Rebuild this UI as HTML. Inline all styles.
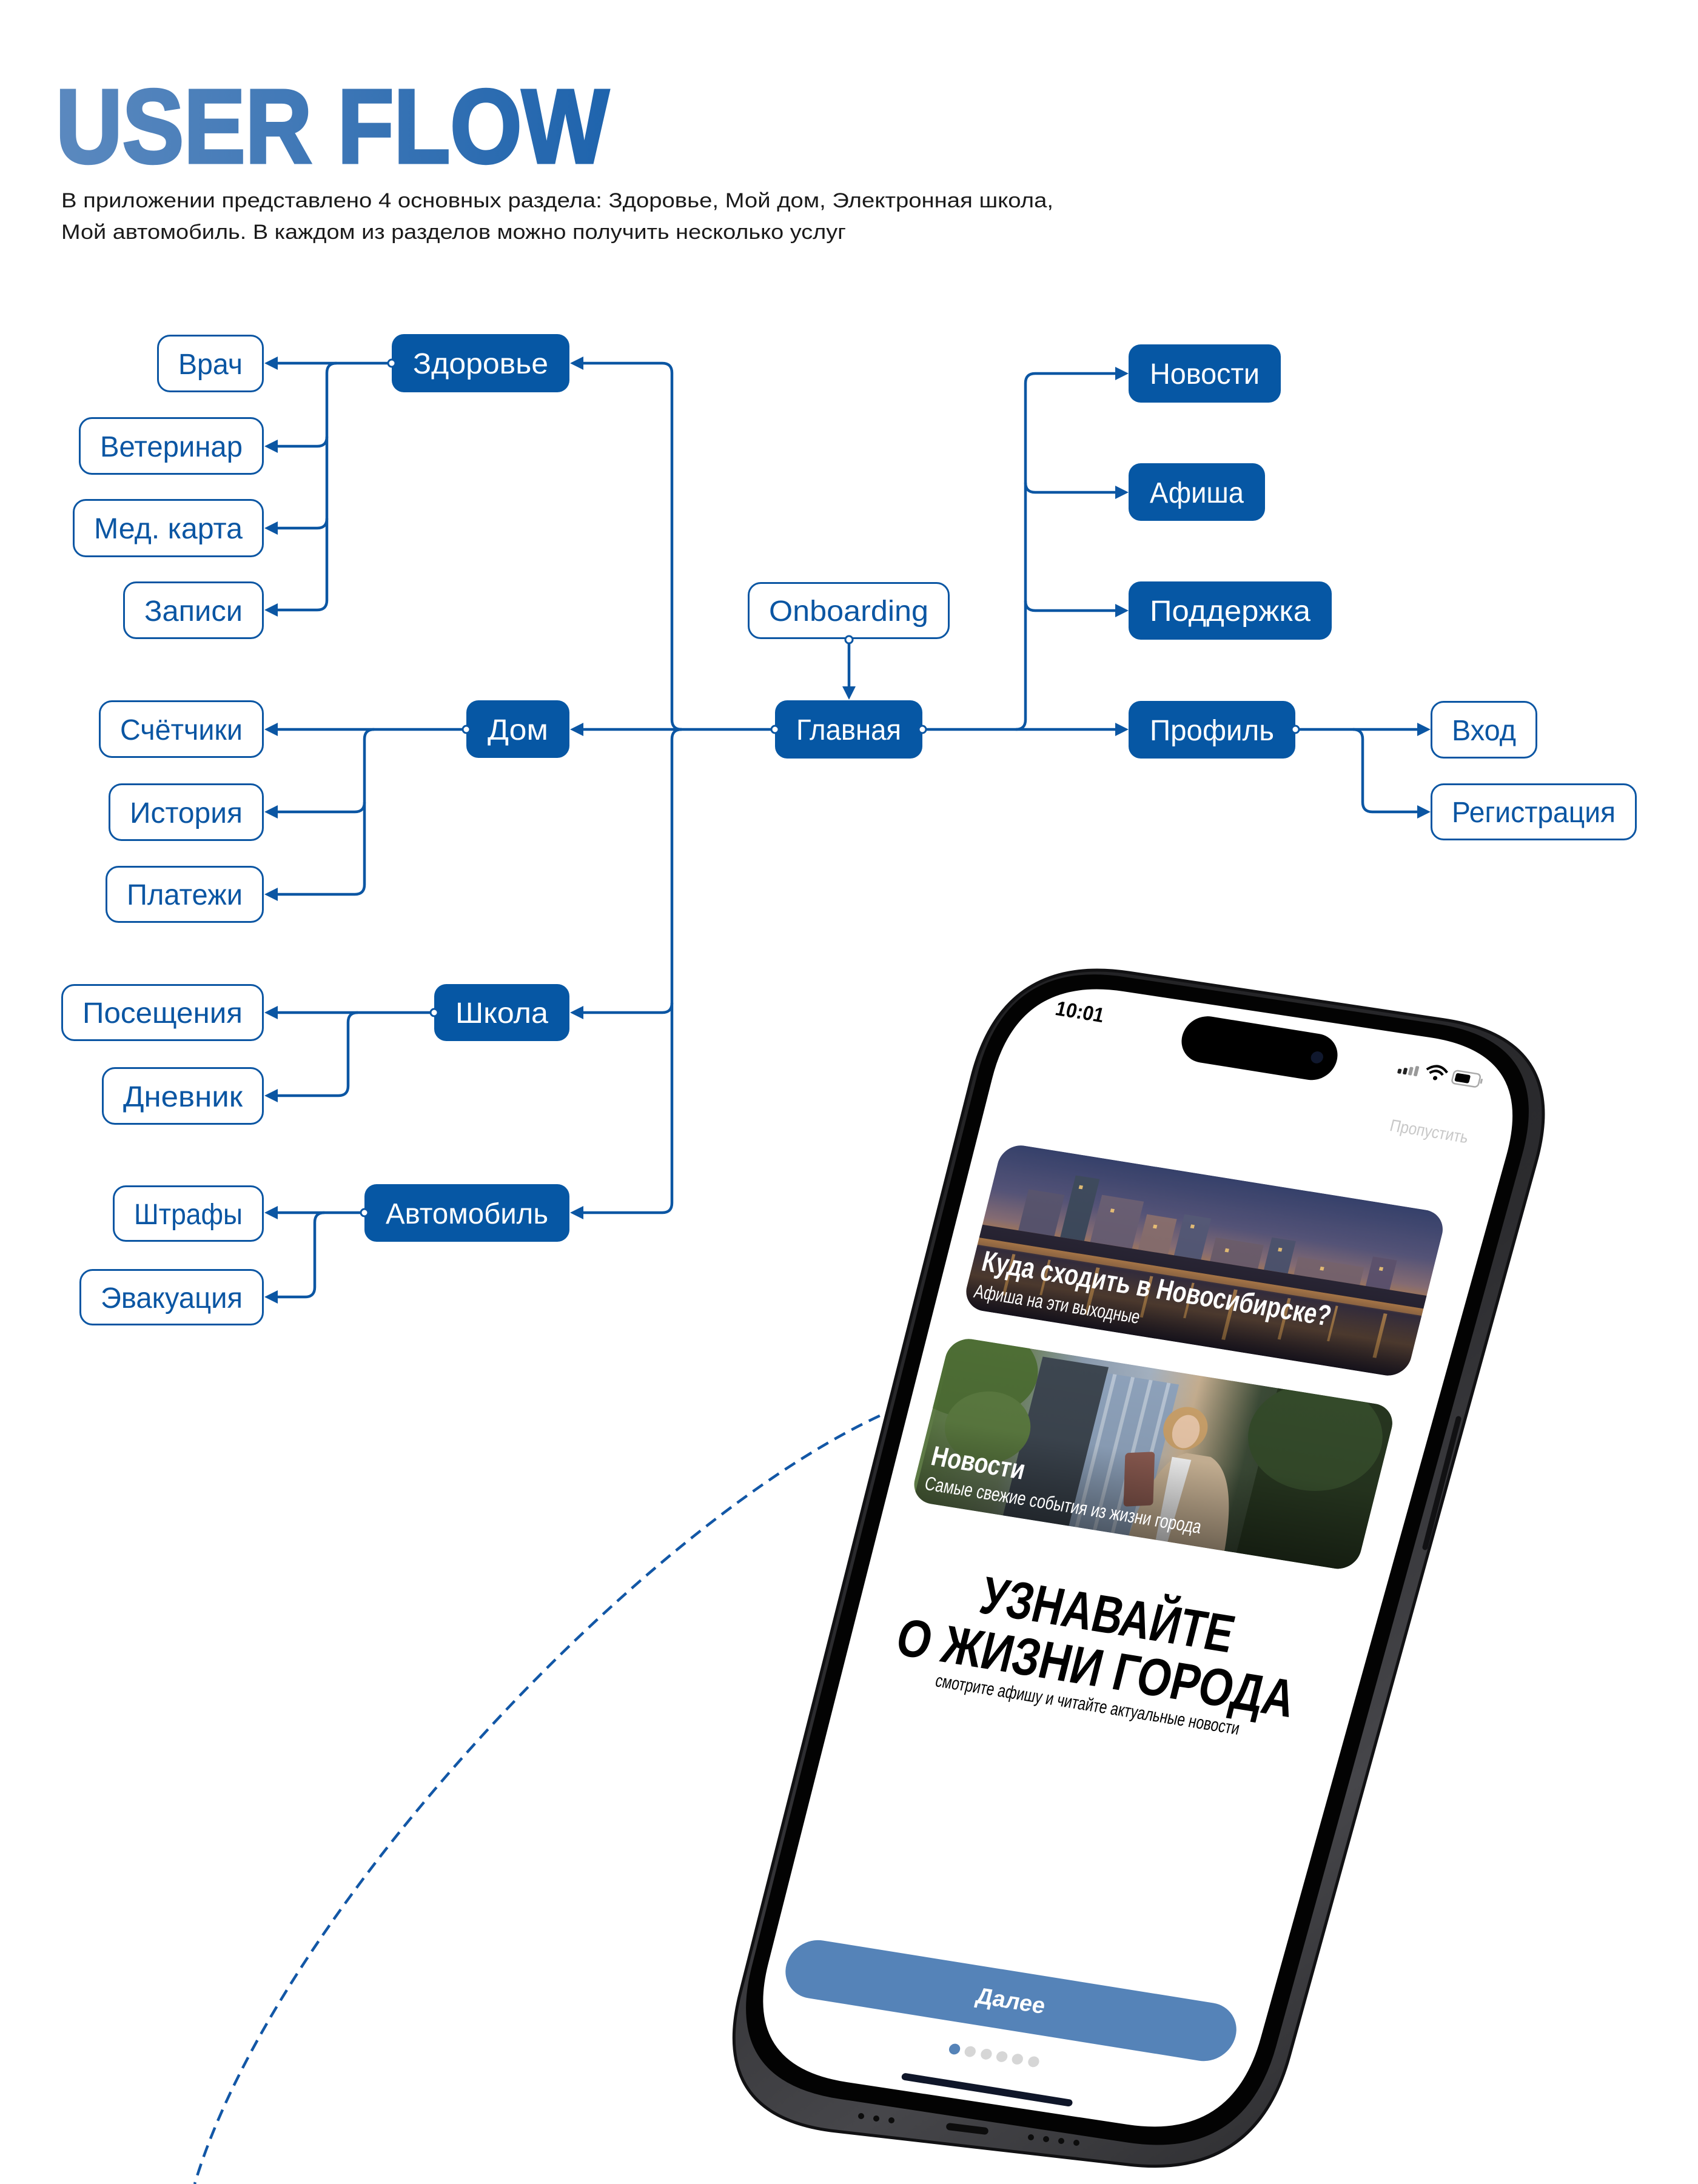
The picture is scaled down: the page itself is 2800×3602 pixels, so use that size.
<!DOCTYPE html>
<html>
<head>
<meta charset="utf-8">
<style>
html,body{margin:0;padding:0;background:#fff;}
svg{display:block;}
text{font-family:"Liberation Sans","DejaVu Sans",sans-serif;}
.ob rect{fill:#fff;stroke:#0b56a3;stroke-width:3;}
.ob text{fill:#0b56a3;font-size:48px;}
.fb rect{fill:#0657a4;}
.fb text{fill:#fff;font-size:48px;}
.ln{fill:none;stroke:#0b56a3;stroke-width:4.5;}
.ar{fill:#0b56a3;}
.dt{fill:#fff;stroke:#0b56a3;stroke-width:3;}
</style>
</head>
<body>
<svg width="2800" height="3602" viewBox="0 0 2800 3602" xmlns="http://www.w3.org/2000/svg">
<defs>
  <linearGradient id="tg" gradientUnits="userSpaceOnUse" x1="92" y1="0" x2="1004" y2="0">
    <stop offset="0" stop-color="#5b89bf"/>
    <stop offset="1" stop-color="#1f64ad"/>
  </linearGradient>
  <linearGradient id="metal" gradientUnits="userSpaceOnUse" x1="1169" y1="1573" x2="2589" y2="3594">
    <stop offset="0" stop-color="#1e1e20"/>
    <stop offset="0.45" stop-color="#2c2c2f"/>
    <stop offset="0.7" stop-color="#46464a"/>
    <stop offset="1" stop-color="#1f1f21"/>
  </linearGradient>
  <linearGradient id="g1" x1="0" y1="0" x2="0" y2="1">
    <stop offset="0" stop-color="#35406a"/>
    <stop offset="0.28" stop-color="#56557a"/>
    <stop offset="0.45" stop-color="#8a7078"/>
    <stop offset="0.55" stop-color="#b8844f"/>
    <stop offset="0.63" stop-color="#3b3346"/>
    <stop offset="0.8" stop-color="#6a5040"/>
    <stop offset="1" stop-color="#262030"/>
  </linearGradient>
  <linearGradient id="g2" x1="0" y1="0" x2="1" y2="0">
    <stop offset="0" stop-color="#5d7a45"/>
    <stop offset="0.18" stop-color="#6f8262"/>
    <stop offset="0.3" stop-color="#8a9aad"/>
    <stop offset="0.45" stop-color="#a3b0bf"/>
    <stop offset="0.56" stop-color="#c4ad8f"/>
    <stop offset="0.7" stop-color="#3b4a36"/>
    <stop offset="1" stop-color="#22301f"/>
  </linearGradient>
  <linearGradient id="shade" x1="0" y1="0" x2="0" y2="1">
    <stop offset="0" stop-color="#000" stop-opacity="0"/>
    <stop offset="0.5" stop-color="#000" stop-opacity="0.05"/>
    <stop offset="1" stop-color="#000" stop-opacity="0.45"/>
  </linearGradient>
  <clipPath id="c1"><rect x="0" y="0" width="742" height="281" rx="36"/></clipPath>
  <clipPath id="c2"><rect x="-6" y="330" width="745" height="280" rx="36"/></clipPath>
</defs>

<!-- Title -->
<text x="92" y="268" font-size="173" font-weight="bold" textLength="912" lengthAdjust="spacingAndGlyphs" fill="url(#tg)" stroke="url(#tg)" stroke-width="5">USER FLOW</text>
<text x="101" y="342" font-size="34" fill="#1a1a1a" textLength="1636" lengthAdjust="spacingAndGlyphs">В приложении представлено 4 основных раздела: Здоровье, Мой дом, Электронная школа,</text>
<text x="101" y="394" font-size="34" fill="#1a1a1a" textLength="1294" lengthAdjust="spacingAndGlyphs">Мой автомобиль. В каждом из разделов можно получить несколько услуг</text>

<!-- Connectors -->
<g class="ln">
  <path d="M1278,1203 H961"/>
  <path d="M1124,1203 Q1108,1203 1108,1187 V615 Q1108,599 1092,599 H961"/>
  <path d="M1124,1203 Q1108,1203 1108,1219 V1984 Q1108,2000 1092,2000 H961"/>
  <path d="M1108,1654 Q1108,1670 1092,1670 H961"/>

  <path d="M646,599 H457"/>
  <path d="M555,599 Q539,599 539,615 V990 Q539,1006 523,1006 H457"/>
  <path d="M539,720 Q539,736 523,736 H457"/>
  <path d="M539,855 Q539,871 523,871 H457"/>

  <path d="M769,1203 H457"/>
  <path d="M617,1203 Q601,1203 601,1219 V1459 Q601,1475 585,1475 H457"/>
  <path d="M601,1323 Q601,1339 585,1339 H457"/>

  <path d="M716,1670 H457"/>
  <path d="M590,1670 Q574,1670 574,1686 V1791 Q574,1807 558,1807 H457"/>

  <path d="M601,2000 H457"/>
  <path d="M535,2000 Q519,2000 519,2016 V2123 Q519,2139 503,2139 H457"/>

  <path d="M1521,1203 H1840"/>
  <path d="M1675,1203 Q1691,1203 1691,1187 V632 Q1691,616 1707,616 H1840"/>
  <path d="M1691,796 Q1691,812 1707,812 H1840"/>
  <path d="M1691,991 Q1691,1007 1707,1007 H1840"/>

  <path d="M2136,1203 H2338"/>
  <path d="M2231,1203 Q2247,1203 2247,1219 V1323 Q2247,1339 2263,1339 H2338"/>

  <path d="M1400,1055 V1133"/>
</g>
<g class="ar">
  <polygon points="940,1203 962,1192 962,1214"/>
  <polygon points="940,599 962,588 962,610"/>
  <polygon points="940,2000 962,1989 962,2011"/>
  <polygon points="940,1670 962,1659 962,1681"/>
  <polygon points="436,599 458,588 458,610"/>
  <polygon points="436,736 458,725 458,747"/>
  <polygon points="436,871 458,860 458,882"/>
  <polygon points="436,1006 458,995 458,1017"/>
  <polygon points="436,1203 458,1192 458,1214"/>
  <polygon points="436,1339 458,1328 458,1350"/>
  <polygon points="436,1475 458,1464 458,1486"/>
  <polygon points="436,1670 458,1659 458,1681"/>
  <polygon points="436,1807 458,1796 458,1818"/>
  <polygon points="436,2000 458,1989 458,2011"/>
  <polygon points="436,2139 458,2128 458,2150"/>
  <polygon points="1861,1203 1839,1192 1839,1214"/>
  <polygon points="1861,616 1839,605 1839,627"/>
  <polygon points="1861,812 1839,801 1839,823"/>
  <polygon points="1861,1007 1839,996 1839,1018"/>
  <polygon points="2359,1203 2337,1192 2337,1214"/>
  <polygon points="2359,1339 2337,1328 2337,1350"/>
  <polygon points="1400,1154 1389,1132 1411,1132"/>
</g>

<!-- Outline boxes -->
<g class="ob">
  <rect x="260.5" y="553.5" width="173" height="92" rx="20"/><text x="294" y="617" textLength="106" lengthAdjust="spacingAndGlyphs">Врач</text>
  <rect x="131.5" y="689.5" width="302" height="92" rx="20"/><text x="165" y="753" textLength="235" lengthAdjust="spacingAndGlyphs">Ветеринар</text>
  <rect x="121.5" y="824.5" width="312" height="93" rx="20"/><text x="155" y="888" textLength="245" lengthAdjust="spacingAndGlyphs">Мед. карта</text>
  <rect x="204.5" y="960.5" width="229" height="92" rx="20"/><text x="238" y="1024" textLength="162" lengthAdjust="spacingAndGlyphs">Записи</text>
  <rect x="164.5" y="1156.5" width="269" height="92" rx="20"/><text x="198" y="1220" textLength="202" lengthAdjust="spacingAndGlyphs">Счётчики</text>
  <rect x="180.5" y="1293.5" width="253" height="92" rx="20"/><text x="214" y="1357" textLength="186" lengthAdjust="spacingAndGlyphs">История</text>
  <rect x="175.5" y="1429.5" width="258" height="91" rx="20"/><text x="209" y="1492" textLength="191" lengthAdjust="spacingAndGlyphs">Платежи</text>
  <rect x="102.5" y="1624.5" width="331" height="91" rx="20"/><text x="136" y="1687" textLength="264" lengthAdjust="spacingAndGlyphs">Посещения</text>
  <rect x="169.5" y="1761.5" width="264" height="92" rx="20"/><text x="203" y="1825" textLength="197" lengthAdjust="spacingAndGlyphs">Дневник</text>
  <rect x="187.5" y="1956.5" width="246" height="90" rx="20"/><text x="221" y="2019" textLength="179" lengthAdjust="spacingAndGlyphs">Штрафы</text>
  <rect x="132.5" y="2094.5" width="301" height="90" rx="20"/><text x="166" y="2157" textLength="234" lengthAdjust="spacingAndGlyphs">Эвакуация</text>
  <rect x="1234.5" y="961.5" width="330" height="91" rx="20"/><text x="1268" y="1024" textLength="263" lengthAdjust="spacingAndGlyphs">Onboarding</text>
  <rect x="2360.5" y="1157.5" width="173" height="92" rx="20"/><text x="2394" y="1221" textLength="106" lengthAdjust="spacingAndGlyphs">Вход</text>
  <rect x="2360.5" y="1293.5" width="337" height="91" rx="20"/><text x="2394" y="1356" textLength="270" lengthAdjust="spacingAndGlyphs">Регистрация</text>
</g>

<!-- Filled boxes -->
<g class="fb">
  <rect x="646" y="551" width="293" height="96" rx="20"/><text x="681" y="616" textLength="223" lengthAdjust="spacingAndGlyphs">Здоровье</text>
  <rect x="769" y="1155" width="170" height="95" rx="20"/><text x="804" y="1220" textLength="100" lengthAdjust="spacingAndGlyphs">Дом</text>
  <rect x="716" y="1623" width="223" height="94" rx="20"/><text x="751" y="1687" textLength="153" lengthAdjust="spacingAndGlyphs">Школа</text>
  <rect x="601" y="1953" width="338" height="95" rx="20"/><text x="636" y="2018" textLength="268" lengthAdjust="spacingAndGlyphs">Автомобиль</text>
  <rect x="1278" y="1155" width="243" height="96" rx="20"/><text x="1313" y="1220" textLength="173" lengthAdjust="spacingAndGlyphs">Главная</text>
  <rect x="1861" y="568" width="251" height="96" rx="20"/><text x="1896" y="633" textLength="181" lengthAdjust="spacingAndGlyphs">Новости</text>
  <rect x="1861" y="764" width="225" height="95" rx="20"/><text x="1896" y="829" textLength="155" lengthAdjust="spacingAndGlyphs">Афиша</text>
  <rect x="1861" y="959" width="335" height="96" rx="20"/><text x="1896" y="1024" textLength="265" lengthAdjust="spacingAndGlyphs">Поддержка</text>
  <rect x="1861" y="1156" width="275" height="95" rx="20"/><text x="1896" y="1221" textLength="205" lengthAdjust="spacingAndGlyphs">Профиль</text>
</g>

<!-- Dots -->
<g class="dt">
  <circle cx="646" cy="599" r="6"/>
  <circle cx="769" cy="1203" r="6"/>
  <circle cx="716" cy="1670" r="6"/>
  <circle cx="601" cy="2000" r="6"/>
  <circle cx="1278" cy="1203" r="6"/>
  <circle cx="1521" cy="1203" r="6"/>
  <circle cx="2136" cy="1203" r="6"/>
  <circle cx="1400" cy="1055" r="6"/>
</g>

<!-- Dashed curve -->
<path d="M1480,2322 C1084,2487 456,3150 321,3602" fill="none" stroke="#1257a6" stroke-width="4.5" stroke-dasharray="20 12"/>

<!-- Phone frame: metal body -->
<path d="M1861.7,1604.1 L2381.3,1681.9 Q2589,1713 2533.1,1915.4 L2125.9,3391.6 Q2070,3594 1861.4,3570.1 L1377.6,3514.9 Q1169,3491 1220.5,3287.4 L1602.5,1776.6 Q1654,1573 1861.7,1604.1 Z" fill="url(#metal)" stroke="#111113" stroke-width="5"/>
<!-- side button -->
<path d="M2405,2340 L2350,2552" stroke="#111113" stroke-width="9" stroke-linecap="round"/>
<!-- speaker holes on bottom side -->
<g fill="#0c0c0c">
  <circle cx="1420" cy="3490" r="5"/><circle cx="1445" cy="3494" r="5"/><circle cx="1470" cy="3497" r="5"/>
  <rect x="1560" y="3505" width="70" height="12" rx="6" transform="rotate(7 1595 3511)"/>
  <circle cx="1700" cy="3525" r="5"/><circle cx="1725" cy="3528" r="5"/><circle cx="1750" cy="3531" r="5"/><circle cx="1775" cy="3534" r="5"/>
</g>
<!-- Black bezel -->
<path d="M1852.7,1611 L2369,1688.5 Q2561.8,1717.4 2509.9,1905.4 L2104.4,3374.7 Q2052.5,3562.7 1859.7,3533.6 L1384.6,3461.8 Q1191.8,3432.7 1239.6,3243.6 L1612.1,1771.2 Q1659.9,1582.1 1852.7,1611 Z" fill="#030303"/>
<!-- Screen -->
<path d="M1852.1,1635 L2357.9,1711 Q2531,1737 2484.1,1905.6 L2078.9,3361.4 Q2032,3530 1859,3503.9 L1397,3434.1 Q1224,3408 1266.9,3238.3 L1636.1,1778.7 Q1679,1609 1852.1,1635 Z" fill="#ffffff"/>

<!-- Screen content (affine local coords) -->
<g transform="matrix(0.9874,0.158,-0.243,0.970,1654,1884)">
  <text x="31" y="-222" font-size="34" font-weight="bold" fill="#000" textLength="80" lengthAdjust="spacingAndGlyphs">10:01</text>
  <rect x="245" y="-260" width="258" height="78" rx="39" fill="#000"/>
  <circle cx="470" cy="-221" r="10" fill="#10182e"/>
  <!-- status icons -->
  <rect x="605" y="-224" width="6" height="8" rx="2" fill="#222"/>
  <rect x="614" y="-227" width="6" height="11" rx="2" fill="#222"/>
  <rect x="623" y="-230" width="6" height="14" rx="2" fill="#9a9a9a"/>
  <rect x="632" y="-233" width="6" height="17" rx="2" fill="#9a9a9a"/>
  <path d="M651,-230 Q668,-246 685,-230" fill="none" stroke="#000" stroke-width="4"/>
  <path d="M657,-225 Q668,-235 679,-225" fill="none" stroke="#000" stroke-width="4"/>
  <circle cx="668" cy="-218" r="3.5" fill="#000"/>
  <rect x="696" y="-236" width="44" height="22" rx="6" fill="none" stroke="#aaa" stroke-width="2.5"/>
  <rect x="700" y="-232" width="24" height="14" rx="3" fill="#000"/>
  <rect x="742" y="-229" width="3" height="8" fill="#aaa"/>
  <text x="745" y="-120" font-size="28" fill="#c8c8c8" text-anchor="end" textLength="130" lengthAdjust="spacingAndGlyphs">Пропустить</text>

  <!-- Card 1 -->
  <g clip-path="url(#c1)">
    <rect x="0" y="0" width="742" height="281" fill="url(#g1)"/>
    <rect x="60" y="70" width="60" height="70" fill="#5a5670"/>
    <rect x="130" y="35" width="40" height="105" fill="#3f4b5e"/>
    <rect x="180" y="60" width="70" height="80" fill="#6b6075"/>
    <rect x="260" y="80" width="50" height="60" fill="#8a7070"/>
    <rect x="320" y="70" width="45" height="70" fill="#565a78"/>
    <rect x="380" y="100" width="80" height="40" fill="#6e5f6e"/>
    <rect x="470" y="85" width="40" height="55" fill="#4f5570"/>
    <rect x="520" y="110" width="110" height="30" fill="#7a6670"/>
    <rect x="640" y="90" width="40" height="50" fill="#5f5470"/>
    <g fill="#ffd27a" opacity="0.85">
      <rect x="140" y="50" width="6" height="6"/><rect x="200" y="80" width="6" height="6"/>
      <rect x="275" y="95" width="6" height="6"/><rect x="335" y="85" width="6" height="6"/>
      <rect x="400" y="115" width="6" height="6"/><rect x="485" y="100" width="6" height="6"/>
      <rect x="560" y="120" width="6" height="6"/><rect x="655" y="105" width="6" height="6"/>
    </g>
    <rect x="0" y="140" width="742" height="22" fill="#2a2636"/>
    <rect x="0" y="162" width="742" height="12" fill="#d09050" opacity="0.65"/>
    <g fill="#f0b060" opacity="0.7">
      <rect x="60" y="180" width="5" height="70"/><rect x="120" y="180" width="4" height="60"/>
      <rect x="200" y="180" width="6" height="80"/><rect x="290" y="180" width="5" height="70"/>
      <rect x="360" y="180" width="4" height="60"/><rect x="430" y="180" width="6" height="85"/>
      <rect x="520" y="180" width="5" height="70"/><rect x="600" y="180" width="4" height="60"/>
      <rect x="680" y="180" width="6" height="75"/>
    </g>
    <rect x="0" y="0" width="742" height="281" fill="url(#shade)"/>
  </g>
  <text x="15" y="215" font-size="48" font-weight="bold" fill="#fff" textLength="581" lengthAdjust="spacingAndGlyphs">Куда сходить в Новосибирске?</text>
  <text x="14" y="261" font-size="32" fill="#fff" textLength="276" lengthAdjust="spacingAndGlyphs">Афиша на эти выходные</text>

  <!-- Card 2 -->
  <g clip-path="url(#c2)">
    <rect x="-6" y="330" width="745" height="280" fill="url(#g2)"/>
    <rect x="150" y="340" width="110" height="270" fill="#3d4650"/>
    <rect x="260" y="350" width="120" height="260" fill="#8ea2bb"/>
    <g fill="#c9d3de" opacity="0.7">
      <rect x="270" y="350" width="6" height="260"/><rect x="300" y="350" width="6" height="260"/>
      <rect x="330" y="350" width="6" height="260"/><rect x="360" y="350" width="6" height="260"/>
    </g>
    <ellipse cx="40" cy="380" rx="110" ry="80" fill="#4e6e35"/>
    <ellipse cx="90" cy="470" rx="70" ry="60" fill="#5b7a40"/>
    <rect x="540" y="330" width="200" height="280" fill="#26351f"/>
    <ellipse cx="620" cy="400" rx="110" ry="90" fill="#344a2a"/>
    <path d="M360,610 Q370,480 420,460 L460,460 Q510,480 520,610 Z" fill="#cbb597"/>
    <path d="M398,470 L430,470 L425,610 L405,610 Z" fill="#f1f1f1"/>
    <circle cx="408" cy="420" r="36" fill="#c9a06a"/>
    <ellipse cx="410" cy="425" rx="22" ry="28" fill="#e8c6a8"/>
    <rect x="330" y="470" width="48" height="90" rx="6" fill="#8a5a50" transform="rotate(-12 354 515)"/>
    <rect x="0" y="330" width="742" height="280" fill="url(#shade)"/>
  </g>
  <text x="12" y="546" font-size="46" font-weight="bold" fill="#fff" textLength="155" lengthAdjust="spacingAndGlyphs">Новости</text>
  <text x="12" y="588" font-size="32" fill="#fff" textLength="461" lengthAdjust="spacingAndGlyphs">Самые свежие события из жизни города</text>

  <!-- Headline -->
  <text x="358" y="775" font-size="88" font-weight="bold" fill="#000" text-anchor="middle" textLength="420" lengthAdjust="spacingAndGlyphs">УЗНАВАЙТЕ</text>
  <text x="361" y="865" font-size="88" font-weight="bold" fill="#000" text-anchor="middle" textLength="662" lengthAdjust="spacingAndGlyphs">О ЖИЗНИ ГОРОДА</text>
  <text x="362" y="907" font-size="30" fill="#000" text-anchor="middle" textLength="507" lengthAdjust="spacingAndGlyphs">смотрите афишу и читайте актуальные новости</text>

  <!-- Button -->
  <rect x="-17" y="1352" width="750" height="98" rx="49" fill="#5583b8"/>
  <text x="358" y="1414" font-size="38" font-weight="bold" fill="#fff" text-anchor="middle">Далее</text>
  <circle cx="287" cy="1495" r="9" fill="#5583b8"/>
  <circle cx="313" cy="1495" r="9" fill="#d6d6d6"/>
  <circle cx="340" cy="1495" r="9" fill="#d6d6d6"/>
  <circle cx="366" cy="1495" r="9" fill="#d6d6d6"/>
  <circle cx="392" cy="1495" r="9" fill="#d6d6d6"/>
  <circle cx="419" cy="1495" r="9" fill="#d6d6d6"/>
  <rect x="213" y="1547" width="285" height="12" rx="6" fill="#0f1629"/>
</g>
</svg>
</body>
</html>
